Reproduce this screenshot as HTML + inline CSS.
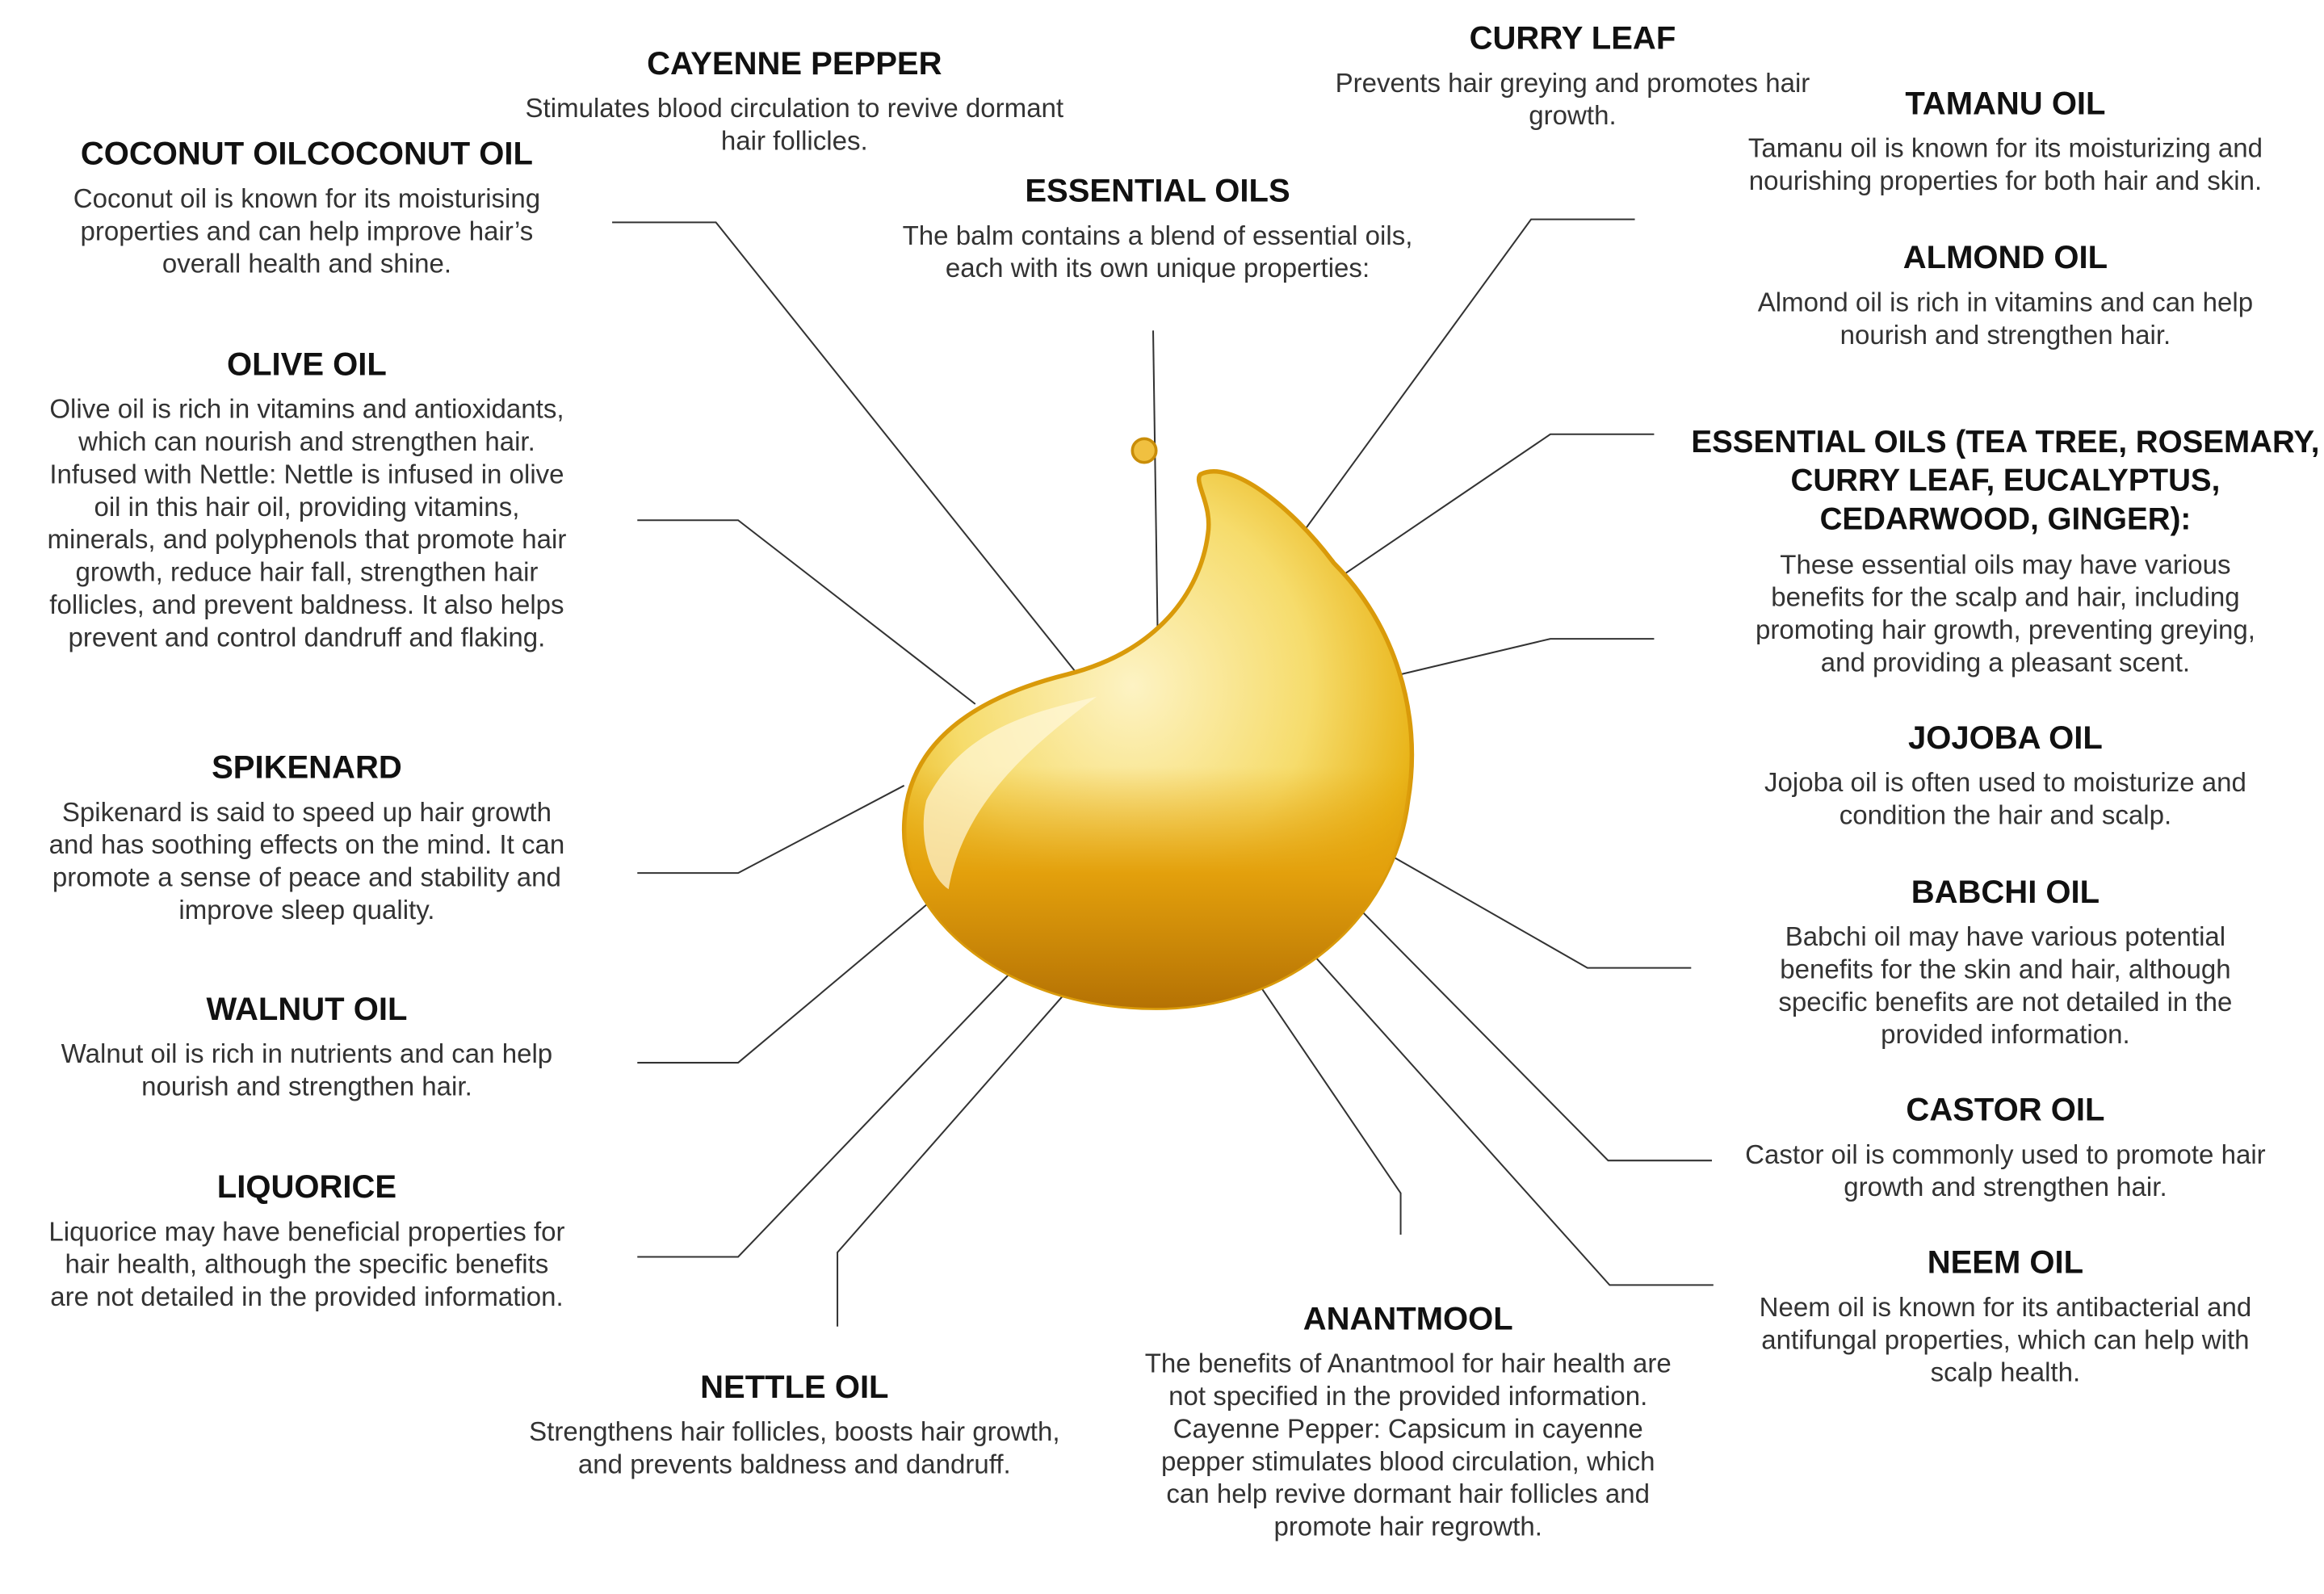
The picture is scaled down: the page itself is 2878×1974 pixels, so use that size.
<!DOCTYPE html>
<html><head><meta charset="utf-8"><style>
html,body{margin:0;padding:0;background:#fff;}
body{width:2878px;height:1974px;overflow:hidden;position:relative;}
#w{position:absolute;left:0;top:0;width:1568px;height:1075px;transform:scale(1.8355);transform-origin:0 0;font-family:"Liberation Sans",sans-serif;}
.b{position:absolute;width:500px;text-align:center;}
.t{font-weight:bold;font-size:21.8px;line-height:26px;color:#111;margin-bottom:6px;white-space:nowrap;}
.d{font-size:18px;line-height:22px;color:#333;white-space:nowrap;}
</style></head><body><div id="w">
<svg width="1568" height="1075" style="position:absolute;left:0;top:0">
<defs>
<radialGradient id="g1" cx="0.45" cy="0.4" r="0.7">
<stop offset="0" stop-color="#fdf3c4"/><stop offset="0.5" stop-color="#f6dc6c"/><stop offset="0.8" stop-color="#e9b51a"/><stop offset="1" stop-color="#c88a06"/>
</radialGradient>
<linearGradient id="g2" x1="0" y1="0" x2="0" y2="1">
<stop offset="0" stop-color="#e8a80e" stop-opacity="0"/><stop offset="0.55" stop-color="#e8a80e" stop-opacity="0"/><stop offset="0.75" stop-color="#e3a00c"/><stop offset="1" stop-color="#b57204"/>
</linearGradient>
</defs>
<g stroke="#333" stroke-width="1.1" fill="none">
<polyline points="413,150 483,150 727,455"/>
<polyline points="430,351 498,351 658,475"/>
<polyline points="430,589 498,589 610,530"/>
<polyline points="430,717 498,717 628,608"/>
<polyline points="430,848 498,848 683,655"/>
<polyline points="565,895 565,845 717,672"/>
<polyline points="778,223 781,425"/>
<polyline points="1103,148 1033,148 877,362"/>
<polyline points="1116,293 1046,293 906,388"/>
<polyline points="1116,431 1046,431 945,455"/>
<polyline points="1141,653 1071,653 938,577"/>
<polyline points="1155,783 1085,783 916,612"/>
<polyline points="1156,867 1086,867 885,643"/>
<polyline points="945,833 945,805 850,665"/>
</g>
<path d="M810 320 C830 310 870 340 900 380 C940 420 960 480 950 540 C940 620 870 680 780 680 C680 680 610 620 610 560 C610 500 660 470 720 455 C780 440 810 400 815 360 C818 340 805 325 810 320 Z" fill="url(#g1)" stroke="#d99a0a" stroke-width="3"/>
<path d="M810 320 C830 310 870 340 900 380 C940 420 960 480 950 540 C940 620 870 680 780 680 C680 680 610 620 610 560 C610 500 660 470 720 455 C780 440 810 400 815 360 C818 340 805 325 810 320 Z" fill="url(#g2)"/>
<path d="M625 540 C650 490 700 480 740 470 C700 500 650 540 640 600 C625 590 620 560 625 540Z" fill="#fff8dc" opacity="0.7"/>
<circle cx="772" cy="304" r="8" fill="#f0c040" stroke="#c98d08" stroke-width="2"/>
</svg>
<div class="b" style="left:-43px;top:91px"><div class="t">COCONUT OILCOCONUT OIL</div><div class="d">Coconut oil is known for its moisturising<br>properties and can help improve hair’s<br>overall health and shine.</div></div>
<div class="b" style="left:286px;top:30px"><div class="t">CAYENNE PEPPER</div><div class="d">Stimulates blood circulation to revive dormant<br>hair follicles.</div></div>
<div class="b" style="left:531px;top:116px"><div class="t">ESSENTIAL OILS</div><div class="d">The balm contains a blend of essential oils,<br>each with its own unique properties:</div></div>
<div class="b" style="left:811px;top:13px"><div class="t">CURRY LEAF</div><div class="d">Prevents hair greying and promotes hair<br>growth.</div></div>
<div class="b" style="left:1103px;top:57px"><div class="t">TAMANU OIL</div><div class="d">Tamanu oil is known for its moisturizing and<br>nourishing properties for both hair and skin.</div></div>
<div class="b" style="left:1103px;top:161px"><div class="t">ALMOND OIL</div><div class="d">Almond oil is rich in vitamins and can help<br>nourish and strengthen hair.</div></div>
<div class="b" style="left:1103px;top:286px"><div class="t" style="font-size:21px">ESSENTIAL OILS (TEA TREE, ROSEMARY,<br>CURRY LEAF, EUCALYPTUS,<br>CEDARWOOD, GINGER):</div><div class="d">These essential oils may have various<br>benefits for the scalp and hair, including<br>promoting hair growth, preventing greying,<br>and providing a pleasant scent.</div></div>
<div class="b" style="left:1103px;top:485px"><div class="t">JOJOBA OIL</div><div class="d">Jojoba oil is often used to moisturize and<br>condition the hair and scalp.</div></div>
<div class="b" style="left:1103px;top:589px"><div class="t">BABCHI OIL</div><div class="d">Babchi oil may have various potential<br>benefits for the skin and hair, although<br>specific benefits are not detailed in the<br>provided information.</div></div>
<div class="b" style="left:1103px;top:736px"><div class="t">CASTOR OIL</div><div class="d">Castor oil is commonly used to promote hair<br>growth and strengthen hair.</div></div>
<div class="b" style="left:1103px;top:839px"><div class="t">NEEM OIL</div><div class="d">Neem oil is known for its antibacterial and<br>antifungal properties, which can help with<br>scalp health.</div></div>
<div class="b" style="left:700px;top:877px"><div class="t">ANANTMOOL</div><div class="d">The benefits of Anantmool for hair health are<br>not specified in the provided information.<br>Cayenne Pepper: Capsicum in cayenne<br>pepper stimulates blood circulation, which<br>can help revive dormant hair follicles and<br>promote hair regrowth.</div></div>
<div class="b" style="left:286px;top:923px"><div class="t">NETTLE OIL</div><div class="d">Strengthens hair follicles, boosts hair growth,<br>and prevents baldness and dandruff.</div></div>
<div class="b" style="left:-43px;top:233px"><div class="t">OLIVE OIL</div><div class="d">Olive oil is rich in vitamins and antioxidants,<br>which can nourish and strengthen hair.<br>Infused with Nettle: Nettle is infused in olive<br>oil in this hair oil, providing vitamins,<br>minerals, and polyphenols that promote hair<br>growth, reduce hair fall, strengthen hair<br>follicles, and prevent baldness. It also helps<br>prevent and control dandruff and flaking.</div></div>
<div class="b" style="left:-43px;top:505px"><div class="t">SPIKENARD</div><div class="d">Spikenard is said to speed up hair growth<br>and has soothing effects on the mind. It can<br>promote a sense of peace and stability and<br>improve sleep quality.</div></div>
<div class="b" style="left:-43px;top:668px"><div class="t">WALNUT OIL</div><div class="d">Walnut oil is rich in nutrients and can help<br>nourish and strengthen hair.</div></div>
<div class="b" style="left:-43px;top:788px"><div class="t">LIQUORICE</div><div class="d">Liquorice may have beneficial properties for<br>hair health, although the specific benefits<br>are not detailed in the provided information.</div></div>
</div></body></html>
